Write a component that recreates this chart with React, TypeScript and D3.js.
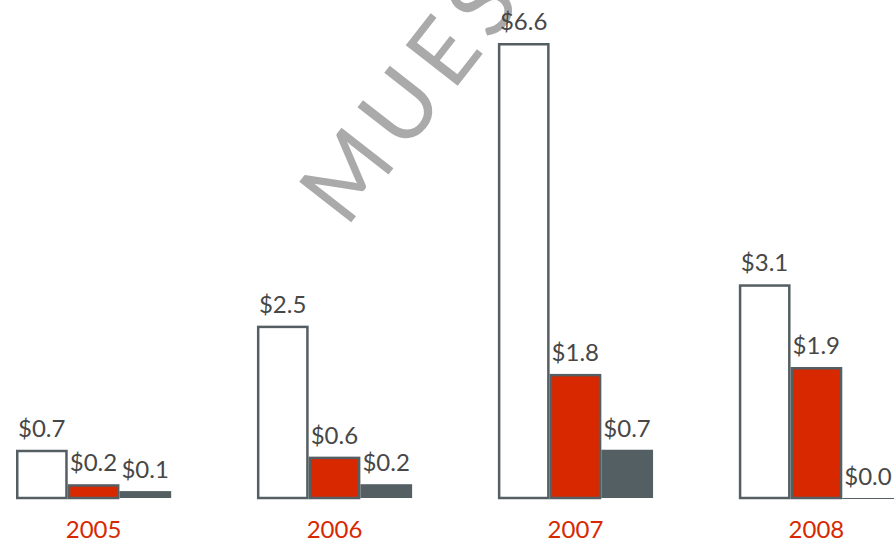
import React from 'react';
import * as d3 from 'd3';

const years = ['2005', '2006', '2007', '2008'];
const seriesA = [0.7, 2.5, 6.6, 3.1];
const seriesB = [0.2, 0.6, 1.8, 1.9];
const seriesC = [0.1, 0.2, 0.7, 0.0];
const seriesKeys = ['a', 'b', 'c'];
const watermark = 'MUES';

const W = 896;
const H = 544;

export default function App() {
  const x0 = d3.scaleBand<string>().domain(years).range([16, 894]).paddingInner(0.356).paddingOuter(0);
  const x1 = d3.scaleBand<string>().domain(seriesKeys).range([0, x0.bandwidth()]).padding(0);
  const y = d3.scaleLinear().domain([0, 6.6]).range([498, 43]);
  const series = [seriesA, seriesB, seriesC];
  const fills = ['#ffffff', '#d82800', '#545f63'];
  const stroke = '#555f63';
  const fmt = (v: number) => '$' + d3.format('.1f')(v);

  return (
    <svg width={W} height={H} style={{ position: 'absolute', left: 0, top: 0 }} fontFamily="Lato, 'Open Sans', sans-serif">
      <g transform="translate(346,229) rotate(-52)">
        <text fontSize={92} fontWeight={400} fill="#aaaaaa" letterSpacing={10}>{watermark}</text>
      </g>
      {years.map((yr, i) => (
        <g key={yr} transform={`translate(${x0(yr)},0)`}>
          {series.map((s, k) => {
            const v = s[i];
            const bx = x1(seriesKeys[k])!;
            const bw = x1.bandwidth();
            const top = y(v);
            const h = y(0) - top;
            return (
              <g key={k}>
                {v > 0 ? (
                  k === 2 ? (
                    <rect x={bx} y={top} width={bw} height={h} fill={fills[k]} />
                  ) : (
                    <rect x={bx + 1.25} y={top + 1.25} width={bw - 2.5} height={h - 1.25} fill={fills[k]} stroke={stroke} strokeWidth={2.5} />
                  )
                ) : (
                  <line x1={bx} x2={bx + bw} y1={y(0) + 0.5} y2={y(0) + 0.5} stroke={stroke} strokeWidth={1} />
                )}
                <text x={bx + 2} y={top - 13} fontSize={24} fill="#474747">{fmt(v)}</text>
              </g>
            );
          })}
          <text x={x0.bandwidth() / 2} y={538} textAnchor="middle" fontSize={24} fill="#d82800">{yr}</text>
        </g>
      ))}
    </svg>
  );
}
